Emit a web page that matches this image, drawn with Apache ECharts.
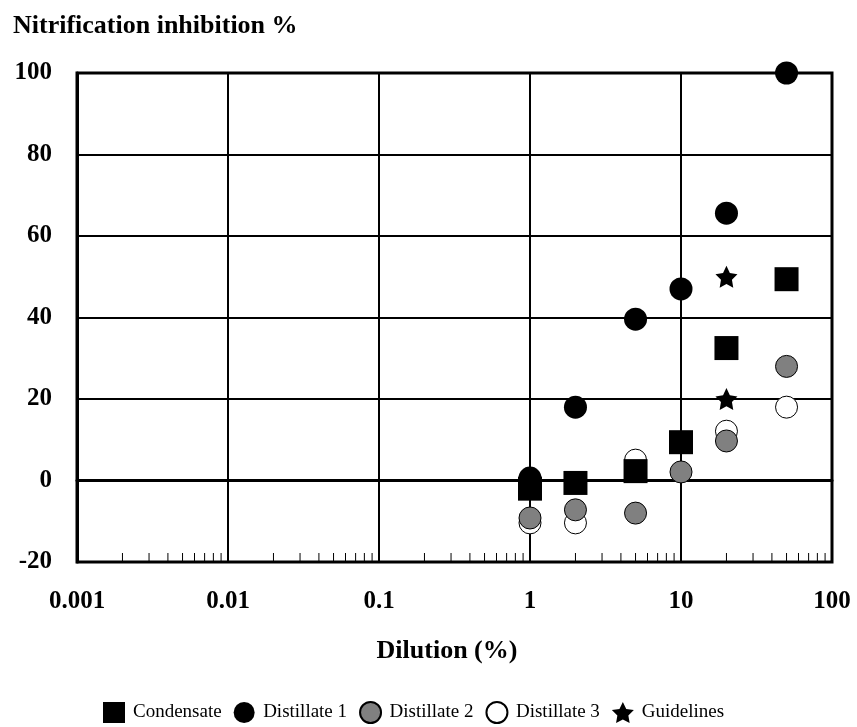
<!DOCTYPE html>
<html>
<head>
<meta charset="utf-8">
<script src="https://cdn.jsdelivr.net/npm/echarts@6/dist/echarts.min.js"></script>
<style>html,body{margin:0;padding:0;background:#fff;}#chart{width:857px;height:727px;}</style>
</head>
<body>
<div id="chart"></div>
<script>
var dilution = [1, 2, 5, 10, 20, 50];
var condensate = [-2, -0.6, 2.3, 9.4, 32.5, 49.4];
var distillate1 = [0.6, 18, 39.6, 47, 65.6, 100];
var distillate2 = [-9.2, -7.2, -8, 2.1, 9.7, 28];
var distillate3 = [-10.4, -10.4, 5, 9.4, 12.1, 18];
var guidelineX = [20, 20];
var guidelineY = [50, 20];
var xTickLabels = ['0.001', '0.01', '0.1', '1', '10', '100'];
var yTicks = [-20, 0, 20, 40, 60, 80, 100];
var minorDecades = [0.001, 0.01, 0.1, 1, 10];
var minorMultipliers = [2, 3, 4, 5, 6, 7, 8, 9];

var FONT = '"Liberation Serif", "Times New Roman", serif';
var STAR = 'path://M50,0 L64.69,29.77 L97.55,34.55 L73.78,57.73 L79.39,90.45 L50,75 L20.61,90.45 L26.22,57.73 L2.45,34.55 L35.31,29.77 Z';

function pairs(xs, ys) { return xs.map(function (x, i) { return [x, ys[i]]; }); }
var minorTicks = [];
minorDecades.forEach(function (d) { minorMultipliers.forEach(function (m) { minorTicks.push([+(d * m).toPrecision(6), yTicks[0]]); }); });

var chart = echarts.init(document.getElementById('chart'), null, {renderer: 'canvas'});
chart.setOption({
  animation: false,
  backgroundColor: '#fff',
  title: {
    text: 'Nitrification inhibition %',
    left: 13, top: 13, padding: 0,
    textStyle: {fontFamily: FONT, fontWeight: 'bold', fontSize: 26, color: '#000'}
  },
  grid: {left: 77, right: 25, top: 73, bottom: 165, show: true, borderColor: '#000', borderWidth: 3, backgroundColor: 'transparent'},
  xAxis: {
    type: 'log', logBase: 10, min: 0.001, max: 100,
    name: 'Dilution (%)', nameLocation: 'middle', nameGap: 76,
    nameTextStyle: {fontFamily: FONT, fontWeight: 'bold', fontSize: 26, color: '#000', padding: [0, 15, 0, 0]},
    axisLine: {show: true, lineStyle: {color: '#000', width: 3}},
    axisTick: {show: false},
    splitLine: {show: true, lineStyle: {color: '#000', width: 2}},
    axisLabel: {
      margin: 27, fontFamily: FONT, fontWeight: 'bold', fontSize: 25, color: '#000',
      formatter: function (v) { var i = Math.round(Math.log10(v)) + 3; return xTickLabels[i] || ''; }
    }
  },
  yAxis: {
    type: 'value', min: -20, max: 100, interval: 20,
    axisLine: {show: true, lineStyle: {color: '#000', width: 3}},
    axisTick: {show: false},
    splitLine: {show: true, lineStyle: {color: '#000', width: 2}},
    axisLabel: {margin: 25, fontFamily: FONT, fontWeight: 'bold', fontSize: 25, color: '#000'}
  },
  legend: {
    top: 701, left: 103, padding: 0, itemGap: 12, itemWidth: 22, itemHeight: 21,
    textStyle: {fontFamily: FONT, fontSize: 19, color: '#000', padding: [0, 0, 0, 3]},
    data: ['Condensate', 'Distillate 1', 'Distillate 2', 'Distillate 3', 'Guidelines']
  },
  series: [
    {
      name: 'minor', type: 'custom', silent: true, z: 1, legendHoverLink: false,
      data: minorTicks, encode: {x: 0, y: 1},
      renderItem: function (params, api) {
        var p = api.coord([api.value(0), api.value(1)]);
        return {type: 'line', shape: {x1: p[0], y1: p[1], x2: p[0], y2: p[1] - 9}, style: {stroke: '#000', lineWidth: 1}};
      }
    },
    {name: 'Condensate', type: 'scatter', z: 6, symbol: 'rect', symbolSize: 24,
      itemStyle: {color: '#000', opacity: 1}, data: pairs(dilution, condensate)},
    {name: 'Distillate 1', type: 'scatter', z: 5, symbol: 'circle', symbolSize: 23,
      itemStyle: {color: '#000', opacity: 1}, data: pairs(dilution, distillate1)},
    {name: 'Distillate 2', type: 'scatter', z: 4, symbol: 'circle', symbolSize: 22,
      itemStyle: {color: '#808080', borderColor: '#000', borderWidth: 1, opacity: 1}, data: pairs(dilution, distillate2)},
    {name: 'Distillate 3', type: 'scatter', z: 3, symbol: 'circle', symbolSize: 22,
      itemStyle: {color: '#fff', borderColor: '#000', borderWidth: 1, opacity: 1}, data: pairs(dilution, distillate3)},
    {name: 'Guidelines', type: 'scatter', z: 7, symbol: STAR, symbolSize: 22,
      itemStyle: {color: '#000', opacity: 1}, data: pairs(guidelineX, guidelineY)}
  ]
});
</script>
</body>
</html>
